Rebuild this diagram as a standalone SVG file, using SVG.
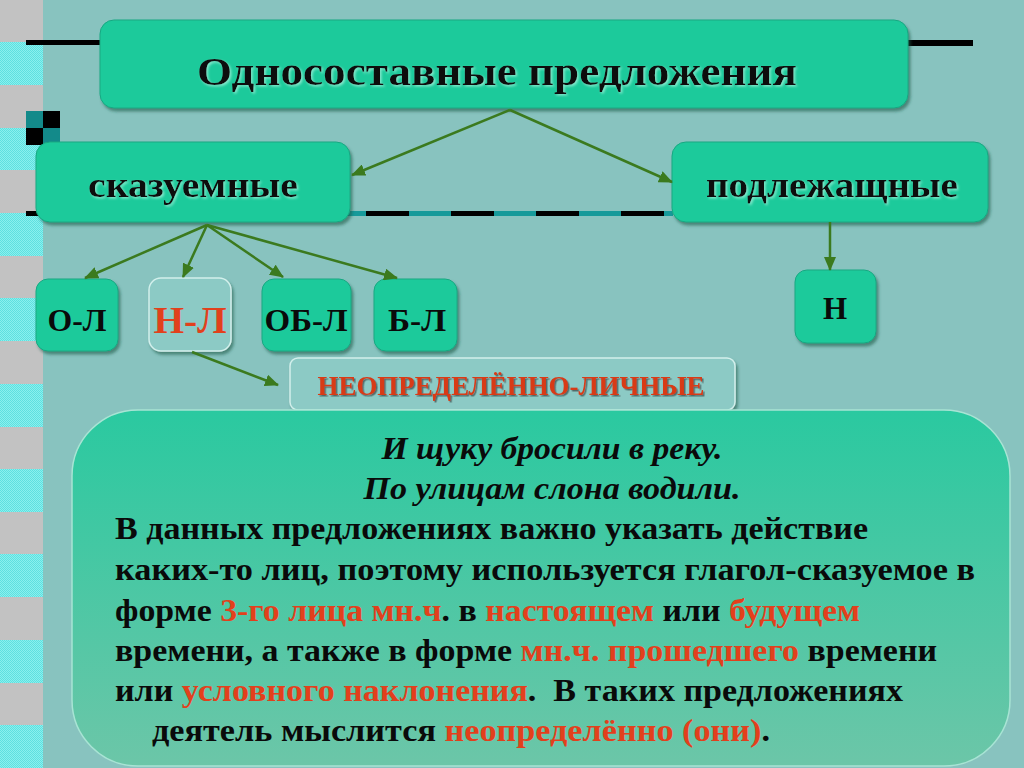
<svg xmlns="http://www.w3.org/2000/svg" width="1024" height="768" viewBox="0 0 1024 768">
<defs>
<style>
.box{fill:#1fca9b;stroke:#17a882;stroke-width:1}
.pale{fill:#8ccac5;stroke:#d2f0ec;stroke-width:1.5}
.lbl{font-family:"Liberation Serif","Times New Roman",serif;font-weight:bold;fill:#0a0a0a;text-anchor:middle}
.red{fill:#e2401c}
.dred{fill:#d83a18}
.body{font-family:"Liberation Serif","Times New Roman",serif;font-weight:bold;font-size:32px;fill:#0a0a0a}
.ital{font-style:italic;text-anchor:middle}
.arr{stroke:#3b7a1e;stroke-width:2.5;fill:none;marker-end:url(#ah)}
</style>
<marker id="ah" markerUnits="userSpaceOnUse" markerWidth="14" markerHeight="12" refX="13" refY="6" orient="auto">
<path d="M0,0 L14,6 L0,12 z" fill="#3b7a1e"/>
</marker>
<pattern id="dith" width="2" height="2" patternUnits="userSpaceOnUse">
<rect width="2" height="2" fill="#8af0ee"/>
<rect width="1" height="1" fill="#5ee0e0"/>
<rect x="1" y="1" width="1" height="1" fill="#5ee0e0"/>
</pattern>
<linearGradient id="bg" x1="0" y1="0" x2="0" y2="1">
<stop offset="0" stop-color="#2ac9a0"/>
<stop offset="1" stop-color="#6cc6a8"/>
</linearGradient>
<filter id="sh" x="-10%" y="-10%" width="130%" height="140%">
<feDropShadow dx="2" dy="3" stdDeviation="1.5" flood-color="#1d5a4a" flood-opacity="0.6"/>
</filter>
<filter id="tsh" x="-5%" y="-20%" width="110%" height="140%">
<feDropShadow dx="1.5" dy="1.5" stdDeviation="0.8" flood-color="#9ff0d8" flood-opacity="0.8"/>
</filter>
<filter id="dsh" x="-5%" y="-20%" width="110%" height="140%">
<feDropShadow dx="1.5" dy="1.5" stdDeviation="0.6" flood-color="#2a2a2a" flood-opacity="0.6"/>
</filter>
</defs>
<rect width="1024" height="768" fill="#88c3bf"/>
<g id="stripe">
<rect x="0" y="0" width="43" height="768" fill="#c2c2c2"/>
<rect x="0" y="42" width="43" height="43" fill="url(#dith)"/>
<rect x="0" y="128" width="43" height="42" fill="url(#dith)"/>
<rect x="0" y="213" width="43" height="43" fill="url(#dith)"/>
<rect x="0" y="298" width="43" height="43" fill="url(#dith)"/>
<rect x="0" y="384" width="43" height="43" fill="url(#dith)"/>
<rect x="0" y="469" width="43" height="43" fill="url(#dith)"/>
<rect x="0" y="554" width="43" height="43" fill="url(#dith)"/>
<rect x="0" y="640" width="43" height="43" fill="url(#dith)"/>
<rect x="0" y="725" width="43" height="43" fill="url(#dith)"/>
</g>
<g id="decor">
<rect x="26" y="40" width="76" height="5" fill="#000"/>
<rect x="906" y="40" width="67" height="6" fill="#000"/>
<rect x="26" y="111" width="17" height="17" fill="#138a8a"/>
<rect x="43" y="111" width="17" height="17" fill="#000"/>
<rect x="26" y="128" width="17" height="17" fill="#000"/>
<rect x="43" y="128" width="17" height="17" fill="#138a8a"/>
<rect x="26" y="211" width="647" height="5" fill="#169a9a"/>
<line x1="26" y1="213.5" x2="673" y2="213.5" stroke="#000" stroke-width="5" stroke-dasharray="43 42"/>
</g>
<g id="title">
<rect class="box" x="100" y="20" width="808" height="88" rx="14" filter="url(#sh)"/>
<text class="lbl" x="497" y="85" font-size="40" filter="url(#tsh)" textLength="600" lengthAdjust="spacingAndGlyphs">Односоставные предложения</text>
</g>
<g id="skaz">
<rect class="box" x="36" y="142" width="314" height="80" rx="14" filter="url(#sh)"/>
<text class="lbl" x="193" y="197" font-size="36" filter="url(#tsh)" textLength="210" lengthAdjust="spacingAndGlyphs">сказуемные</text>
</g>
<g id="podl">
<rect class="box" x="672" y="142" width="316" height="80" rx="14" filter="url(#sh)"/>
<text class="lbl" x="832" y="197" font-size="36" filter="url(#tsh)" textLength="252" lengthAdjust="spacingAndGlyphs">подлежащные</text>
</g>
<g id="ol">
<rect class="box" x="36" y="279" width="82" height="72" rx="12" filter="url(#sh)"/>
<text class="lbl" x="77" y="331" font-size="32" textLength="59" lengthAdjust="spacingAndGlyphs">О-Л</text>
</g>
<g id="nl">
<rect class="pale" x="149" y="278" width="82" height="73" rx="12" filter="url(#sh)"/>
<text class="lbl red" x="190" y="333" font-size="38" textLength="73" lengthAdjust="spacingAndGlyphs">Н-Л</text>
</g>
<g id="obl">
<rect class="box" x="262" y="279" width="89" height="72" rx="12" filter="url(#sh)"/>
<text class="lbl" x="306" y="331" font-size="32" textLength="83" lengthAdjust="spacingAndGlyphs">ОБ-Л</text>
</g>
<g id="bl">
<rect class="box" x="374" y="279" width="83" height="72" rx="12" filter="url(#sh)"/>
<text class="lbl" x="417" y="331" font-size="32" textLength="58" lengthAdjust="spacingAndGlyphs">Б-Л</text>
</g>
<g id="n">
<rect class="box" x="795" y="270" width="81" height="73" rx="12" filter="url(#sh)"/>
<text class="lbl" x="835" y="319" font-size="31">Н</text>
</g>
<g id="neopr">
<rect class="pale" x="290" y="358" width="445" height="52" rx="8" filter="url(#sh)"/>
<text class="lbl dred" x="511" y="395" font-size="27" filter="url(#dsh)" textLength="387" lengthAdjust="spacingAndGlyphs">НЕОПРЕДЕЛЁННО-ЛИЧНЫЕ</text>
</g>
<g id="connectors">
<line class="arr" x1="510" y1="110" x2="352" y2="175"/>
<line class="arr" x1="510" y1="110" x2="672" y2="182"/>
<line class="arr" x1="207" y1="225" x2="85" y2="278"/>
<line class="arr" x1="207" y1="225" x2="183" y2="277"/>
<line class="arr" x1="207" y1="225" x2="283" y2="277"/>
<line class="arr" x1="207" y1="225" x2="397" y2="278"/>
<line class="arr" x1="830" y1="222" x2="830" y2="270"/>
<line class="arr" x1="192" y1="352" x2="278" y2="385"/>
</g>
<g id="explain">
<rect x="72" y="410" width="938" height="356" rx="66" fill="url(#bg)" stroke="#a8e4d4" stroke-width="1.5"/>
<text class="body ital" x="552" y="459" textLength="341" lengthAdjust="spacingAndGlyphs">И щуку бросили в реку.</text>
<text class="body ital" x="552" y="499" textLength="377" lengthAdjust="spacingAndGlyphs">По улицам слона водили.</text>
<text class="body" x="115" y="539" textLength="753" lengthAdjust="spacingAndGlyphs">В данных предложениях важно указать действие</text>
<text class="body" x="115" y="580" textLength="860" lengthAdjust="spacingAndGlyphs">каких-то лиц, поэтому используется глагол-сказуемое в</text>
<text class="body" x="115" y="621" textLength="745" lengthAdjust="spacingAndGlyphs">форме <tspan class="red">3-го лица мн.ч</tspan>. в <tspan class="red">настоящем</tspan> или <tspan class="red">будущем</tspan></text>
<text class="body" x="115" y="661" textLength="822" lengthAdjust="spacingAndGlyphs">времени, а также в форме <tspan class="red">мн.ч. прошедшего</tspan> времени</text>
<text class="body" x="115" y="701" textLength="788" lengthAdjust="spacingAndGlyphs" xml:space="preserve">или <tspan class="red">условного наклонения</tspan>.  В таких предложениях</text>
<text class="body" x="152" y="741" textLength="618" lengthAdjust="spacingAndGlyphs">деятель мыслится <tspan class="red">неопределённо (они)</tspan>.</text>
</g>
</svg>
